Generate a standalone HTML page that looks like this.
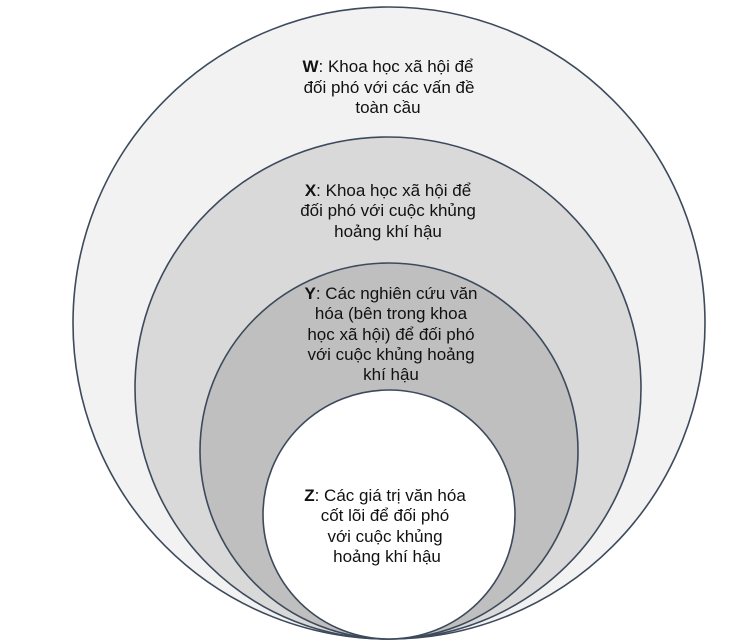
<!DOCTYPE html>
<html><head><meta charset="utf-8"><style>
html,body{margin:0;padding:0;background:#fff;}
svg{display:block}
text{font-family:"Liberation Sans","DejaVu Sans",sans-serif;font-size:17px;fill:#111;text-anchor:middle}
</style></head><body>
<svg width="756" height="643" viewBox="0 0 756 643" xmlns="http://www.w3.org/2000/svg">
<g stroke="#3d4a5c" stroke-width="1.6">
<ellipse cx="389" cy="323" rx="316" ry="316" fill="#f2f2f2"/>
<ellipse cx="388" cy="388" rx="253" ry="251" fill="#d9d9d9"/>
<ellipse cx="389" cy="451" rx="189" ry="188" fill="#bfbfbf"/>
<ellipse cx="389" cy="514.5" rx="126" ry="124.5" fill="#ffffff"/>
</g>
<text x="388" y="72"><tspan font-weight="bold">W</tspan>: Khoa học xã hội để</text>
<text x="389" y="93">đối phó với các vấn đề</text>
<text x="388" y="113">toàn cầu</text>

<text x="388" y="196"><tspan font-weight="bold">X</tspan>: Khoa học xã hội để</text>
<text x="388" y="216">đối phó với cuộc khủng</text>
<text x="388" y="237">hoảng khí hậu</text>

<text x="391" y="299"><tspan font-weight="bold">Y</tspan>: Các nghiên cứu văn</text>
<text x="391" y="319">hóa (bên trong khoa</text>
<text x="391" y="340">học xã hội) để đối phó</text>
<text x="391" y="360">với cuộc khủng hoảng</text>
<text x="391" y="380">khí hậu</text>

<text x="385" y="501"><tspan font-weight="bold">Z</tspan>: Các giá trị văn hóa</text>
<text x="385" y="521">cốt lõi để đối phó</text>
<text x="385" y="542">với cuộc khủng</text>
<text x="387" y="562">hoảng khí hậu</text>
</svg>
</body></html>
